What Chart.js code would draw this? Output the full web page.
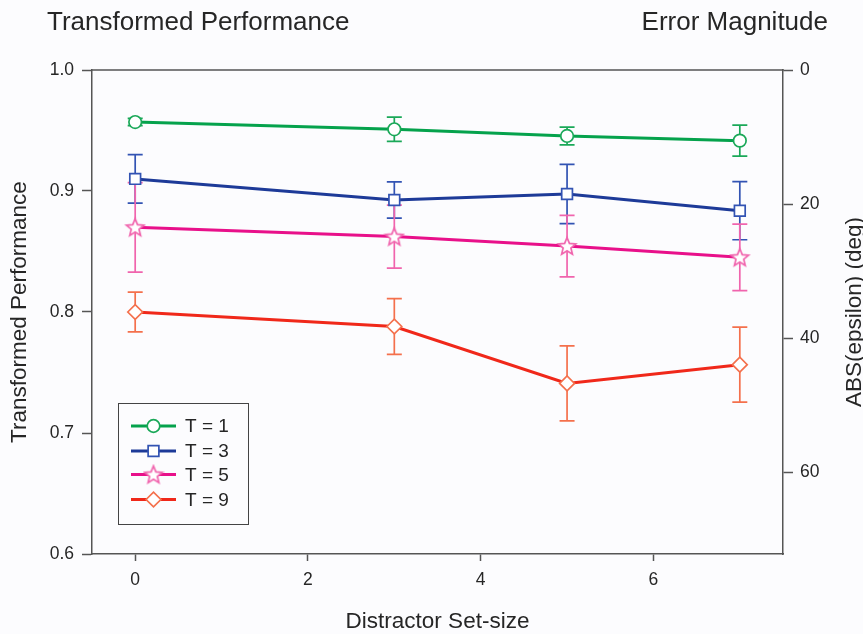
<!DOCTYPE html>
<html>
<head>
<meta charset="utf-8">
<script src="https://cdn.jsdelivr.net/npm/chart.js@4.4.1/dist/chart.umd.min.js"></script>
<style>
  html, body { margin: 0; padding: 0; background: #fcfcfe; }
  #wrap { width: 863px; height: 634px; position: relative; }
</style>
</head>
<body>
<div id="wrap"><canvas id="chart"></canvas></div>
<script>
'use strict';

// ─── Data ────────────────────────────────────────────────────────────────────
const setSizes     = [0, 3, 5, 7];
const seriesLabels = ['T = 1', 'T = 3', 'T = 5', 'T = 9'];

const t1Perf = [0.957, 0.951, 0.9455, 0.9416];
const t1Err  = [0.003, 0.010, 0.0073, 0.0128];
const t3Perf = [0.910, 0.8926, 0.8975, 0.8837];
const t3Err  = [0.020, 0.015, 0.0245, 0.024];
const t5Perf = [0.870, 0.8623, 0.8545, 0.8452];
const t5Err  = [0.037, 0.026, 0.0254, 0.0275];
const t9Perf = [0.800, 0.788, 0.741, 0.7565];
const t9Err  = [0.0165, 0.023, 0.031, 0.031];

const xTicks     = [0, 2, 4, 6];
const perfTicks  = [0.6, 0.7, 0.8, 0.9, 1.0];
const errorTicks = [0, 20, 40, 60];

// ─── Styles ──────────────────────────────────────────────────────────────────
const FONT   = "'Liberation Sans', Arial, sans-serif";
const TEXT   = '#262626';
const AXIS   = '#555555';

const COLORS = [
  { line: '#05a24c', mark: '#1aa858' },
  { line: '#1d3a98', mark: '#3253b3' },
  { line: '#e8108a', mark: '#f064ad' },
  { line: '#f0281a', mark: '#f4704c' },
];

function starCanvas(color) {
  const c = document.createElement('canvas');
  c.width = 22; c.height = 22;
  const ctx = c.getContext('2d');
  ctx.beginPath();
  for (let k = 0; k < 10; k++) {
    const r = k % 2 === 0 ? 9.2 : 4.1;
    const a = -Math.PI / 2 + k * Math.PI / 5;
    const px = 11 + r * Math.cos(a), py = 11.7 + r * Math.sin(a);
    k === 0 ? ctx.moveTo(px, py) : ctx.lineTo(px, py);
  }
  ctx.closePath();
  ctx.fillStyle = '#ffffff'; ctx.fill();
  ctx.strokeStyle = color; ctx.lineWidth = 1.7; ctx.stroke();
  return c;
}

const MARKERS = [
  { style: 'circle',  radius: 6.3 },
  { style: 'rect',    radius: 7.6 },
  { style: starCanvas(COLORS[2].mark), radius: 9 },
  { style: 'rectRot', radius: 7.4 },
];

function series(i, perf, err) {
  return {
    label: seriesLabels[i],
    data: setSizes.map((x, j) => ({ x, y: perf[j] })),
    errors: err,
    borderColor: COLORS[i].line,
    borderWidth: 3,
    pointStyle: MARKERS[i].style,
    pointRadius: MARKERS[i].radius,
    pointBorderColor: COLORS[i].mark,
    pointBackgroundColor: '#ffffff',
    pointBorderWidth: 1.7,
    tension: 0,
    yAxisID: 'y',
  };
}

// ─── Plugins ─────────────────────────────────────────────────────────────────
const background = {
  id: 'background',
  beforeDraw(chart) {
    const ctx = chart.ctx;
    ctx.save();
    ctx.fillStyle = '#fcfcfe';
    ctx.fillRect(0, 0, chart.width, chart.height);
    ctx.restore();
  },
};

const errorBars = {
  id: 'errorBars',
  beforeDatasetsDraw(chart) {
    const ctx = chart.ctx;
    const xs = chart.scales.x, ys = chart.scales.y;
    ctx.save();
    ctx.lineWidth = 1.7;
    chart.data.datasets.forEach((ds, i) => {
      ctx.strokeStyle = COLORS[i].mark;
      ds.data.forEach((p, j) => {
        const e  = ds.errors[j];
        const x  = xs.getPixelForValue(p.x);
        const hi = ys.getPixelForValue(p.y + e);
        const lo = ys.getPixelForValue(p.y - e);
        ctx.beginPath();
        ctx.moveTo(x, hi); ctx.lineTo(x, lo);
        ctx.moveTo(x - 7.5, hi); ctx.lineTo(x + 7.5, hi);
        ctx.moveTo(x - 7.5, lo); ctx.lineTo(x + 7.5, lo);
        ctx.stroke();
      });
    });
    ctx.restore();
  },
};

const decorations = {
  id: 'decorations',
  afterDraw(chart) {
    const ctx = chart.ctx;
    const { left, right, top, bottom } = chart.chartArea;
    ctx.save();

    // top frame line
    ctx.strokeStyle = AXIS; ctx.lineWidth = 1.5;
    ctx.beginPath(); ctx.moveTo(left - 0.75, top); ctx.lineTo(right + 0.75, top); ctx.stroke();

    ctx.fillStyle = TEXT;

    // headings
    ctx.font = `26px ${FONT}`;
    ctx.textBaseline = 'alphabetic';
    ctx.textAlign = 'left';
    ctx.fillText('Transformed Performance', 47, 30);
    ctx.textAlign = 'right';
    ctx.fillText('Error Magnitude', 828, 30);

    // axis titles
    ctx.font = `22.5px ${FONT}`;
    ctx.textAlign = 'center';
    ctx.fillText('Distractor Set-size', (left + right) / 2, 628);

    ctx.save();
    ctx.translate(26, (top + bottom) / 2);
    ctx.rotate(-Math.PI / 2);
    ctx.fillText('Transformed Performance', 0, 0);
    ctx.restore();

    ctx.save();
    ctx.translate(861, (top + bottom) / 2);
    ctx.rotate(-Math.PI / 2);
    ctx.fillText('ABS(epsilon) (deg)', 0, 0);
    ctx.restore();

    // legend box
    ctx.strokeStyle = '#444'; ctx.lineWidth = 1;
    ctx.strokeRect(118.5, 403.5, 130, 121);
    const rows = [426, 451, 474.5, 499.5];
    chart.data.datasets.forEach((ds, i) => {
      const y = rows[i];
      ctx.strokeStyle = COLORS[i].line; ctx.lineWidth = 3;
      ctx.beginPath(); ctx.moveTo(131, y); ctx.lineTo(176, y); ctx.stroke();
      ctx.strokeStyle = COLORS[i].mark; ctx.fillStyle = '#ffffff'; ctx.lineWidth = 1.7;
      Chart.helpers.drawPoint(ctx, {
        pointStyle: MARKERS[i].style, radius: MARKERS[i].radius, rotation: 0, borderWidth: 1.7,
      }, 153.5, y);
      ctx.fillStyle = TEXT;
      ctx.font = `19px ${FONT}`;
      ctx.textAlign = 'left'; ctx.textBaseline = 'middle';
      ctx.fillText(ds.label, 185, y + 1);
    });

    ctx.restore();
  },
};

// ─── Chart ───────────────────────────────────────────────────────────────────
const tickFont = { family: FONT, size: 17.5 };

new Chart(document.getElementById('chart'), {
  type: 'line',
  data: {
    datasets: [
      series(0, t1Perf, t1Err),
      series(1, t3Perf, t3Err),
      series(2, t5Perf, t5Err),
      series(3, t9Perf, t9Err),
    ],
  },
  options: {
    responsive: true,
    maintainAspectRatio: false,
    animation: false,
    devicePixelRatio: 1,
    layout: { padding: { top: 70, left: 0, right: 0, bottom: 0 } },
    plugins: { legend: { display: false }, tooltip: { enabled: false } },
    scales: {
      x: {
        type: 'linear', position: 'bottom', min: -0.5, max: 7.5,
        afterBuildTicks: s => { s.ticks = xTicks.map(v => ({ value: v })); },
        afterFit: s => { s.height = 80; },
        ticks: { font: tickFont, color: TEXT, padding: 9, maxRotation: 0 },
        grid: { drawOnChartArea: false, tickLength: 7, tickColor: AXIS, tickWidth: 1.5 },
        border: { color: AXIS, width: 1.5 },
      },
      y: {
        type: 'linear', position: 'left', min: 0.6, max: 1.0,
        afterBuildTicks: s => { s.ticks = perfTicks.map(v => ({ value: v })); },
        afterFit: s => { s.width = 92; },
        ticks: { font: tickFont, color: TEXT, padding: 8, callback: v => Number(v).toFixed(1) },
        grid: { drawOnChartArea: false, tickLength: 10, tickColor: AXIS, tickWidth: 1.5 },
        border: { color: AXIS, width: 1.5 },
      },
      y2: {
        type: 'linear', position: 'right', min: 0, max: 72.2, reverse: true,
        afterBuildTicks: s => { s.ticks = errorTicks.map(v => ({ value: v })); },
        afterFit: s => { s.width = 80; },
        ticks: { font: tickFont, color: TEXT, padding: 7 },
        grid: { drawOnChartArea: false, tickLength: 10, tickColor: AXIS, tickWidth: 1.5 },
        border: { color: AXIS, width: 1.5 },
      },
    },
  },
  plugins: [background, errorBars, decorations],
});
</script>
</body>
</html>
